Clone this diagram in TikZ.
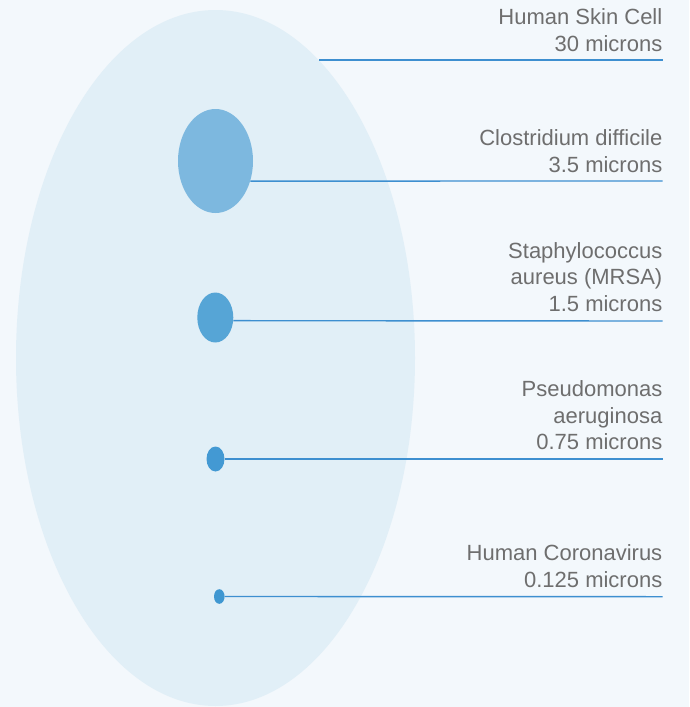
\documentclass[tikz,border=0pt]{standalone}
\usepackage{fontspec}
\setmainfont{Liberation Sans}
\usetikzlibrary{shapes.geometric}
\definecolor{bg}{HTML}{F3F8FC}
\definecolor{skin}{HTML}{E1EFF7}
\definecolor{closc}{HTML}{7DB8DF}
\definecolor{mrsac}{HTML}{56A5D6}
\definecolor{pseuc}{HTML}{4399D3}
\definecolor{corc}{HTML}{3F97D1}
\definecolor{linec}{HTML}{3D8FD0}
\definecolor{txt}{HTML}{6E6E6E}
\tikzset{
  blob/.style={ellipse, draw=none, inner sep=0pt},
  leader/.style={draw=linec, line width=1.4pt},
  lbl/.style={anchor=south east, inner sep=0pt, align=right, text=txt,
    font=\fontsize{22}{26.7}\selectfont}
}
\begin{document}
\begin{tikzpicture}[x=1pt,y=-1pt]
\fill[bg] (0,0) rectangle (689,707);
\useasboundingbox (0,0) rectangle (689,707);
\node[blob, fill=skin, minimum width=399pt, minimum height=696pt] (skin) at (215.5,358) {};
% coordinates for connector ends
\coordinate (skinS) at (319,60);
\coordinate (skinE) at (662.5,60);
\coordinate (closE) at (662.5,181);
\coordinate (mrsaE) at (662.5,321);
\coordinate (pseuE) at (662.5,459);
\coordinate (corE) at (662.5,596.7);
% blobs
\node[blob, fill=closc, minimum width=75pt, minimum height=104pt] (clos) at (215.5,161) {};
\node[blob, fill=mrsac, minimum width=36pt, minimum height=50pt] (mrsa) at (215.3,317.5) {};
\node[blob, fill=pseuc, minimum width=18pt, minimum height=25pt] (pseu) at (215.5,459) {};
\node[blob, fill=corc, minimum width=10.6pt, minimum height=14.6pt] (cor) at (219.3,596.5) {};
% leaders
\draw[leader] (skinS) -- (skinE);
\draw[leader] (clos.-30) -- (closE);
\draw[leader] (mrsa.-10) -- (mrsaE);
\draw[leader] (pseu.east) -- (pseuE);
\draw[leader] (cor.east) -- (corE);
% labels
\node[lbl] (tskin) at (662.5,51.5) {Human Skin Cell\\30 microns};
\node[lbl] (tclos) at (662.5,172.5) {Clostridium difficile\\3.5 microns};
\node[lbl] (tmrsa) at (662.5,312) {Staphylococcus\\aureus (MRSA)\\1.5 microns};
\node[lbl] (tpseu) at (662.5,450.3) {Pseudomonas\\aeruginosa\\0.75 microns};
\node[lbl] (tcor) at (662.5,588) {Human Coronavirus\\0.125 microns};
\end{tikzpicture}
\end{document}
